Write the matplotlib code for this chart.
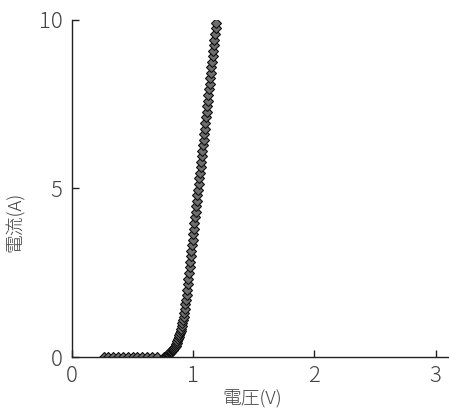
import matplotlib.pyplot as plt

plt.rcParams['font.family'] = ['Noto Sans CJK JP', 'DejaVu Sans']

# flat region, sparse markers
volt_low = [0.26, 0.30, 0.34, 0.38, 0.42, 0.46, 0.50, 0.54, 0.58, 0.62, 0.66, 0.70]
curr_low = [0.0] * len(volt_low)

# rising region, dense markers
volt_high = [0.760, 0.765, 0.770, 0.775, 0.780, 0.785, 0.790, 0.795, 0.800, 0.805,
             0.810, 0.815, 0.820, 0.825, 0.830, 0.835, 0.840, 0.845, 0.850, 0.855,
             0.860, 0.865, 0.870, 0.875, 0.880, 0.885, 0.890, 0.895, 0.900, 0.905,
             0.910, 0.915, 0.920, 0.925, 0.930, 0.935, 0.940, 0.945, 0.950, 0.955,
             0.960, 0.965, 0.970, 0.975, 0.980, 0.985, 0.990, 0.995, 1.000, 1.005,
             1.010, 1.015, 1.020, 1.025, 1.030, 1.035, 1.040, 1.045, 1.050, 1.055,
             1.060, 1.065, 1.070, 1.075, 1.080, 1.085, 1.090, 1.095, 1.100, 1.105,
             1.110, 1.115, 1.120, 1.125, 1.130, 1.135, 1.140, 1.145, 1.150, 1.155,
             1.160, 1.165, 1.170, 1.175, 1.180, 1.185, 1.190]
curr_high = [0.00, 0.00, 0.01, 0.02, 0.03, 0.04, 0.06, 0.08, 0.10, 0.12,
             0.14, 0.16, 0.18, 0.20, 0.22, 0.24, 0.26, 0.28, 0.30, 0.34,
             0.38, 0.42, 0.47, 0.52, 0.58, 0.64, 0.70, 0.77, 0.84, 0.92,
             1.01, 1.10, 1.20, 1.31, 1.43, 1.56, 1.70, 1.85, 2.00, 2.16,
             2.32, 2.49, 2.66, 2.82, 2.99, 3.15, 3.32, 3.48, 3.65, 3.81,
             3.98, 4.14, 4.31, 4.47, 4.64, 4.80, 4.97, 5.13, 5.30, 5.46,
             5.63, 5.79, 5.96, 6.12, 6.29, 6.45, 6.62, 6.78, 6.95, 7.11,
             7.28, 7.44, 7.61, 7.77, 7.94, 8.10, 8.27, 8.43, 8.60, 8.76,
             8.93, 9.09, 9.26, 9.42, 9.59, 9.75, 9.92]

x_ticks = [0, 1, 2, 3]
y_ticks = [0, 5, 10]

fig = plt.figure(figsize=(4.49, 4.08), dpi=100)
ax = fig.add_axes([0.1604, 0.125, 0.837, 0.826])

volts = volt_low + volt_high
currs = curr_low + curr_high
ax.plot(volts, currs, color='black', lw=1.2, marker='D', markersize=5.2,
        markerfacecolor='#6e6e6e', markeredgecolor='#111111', markeredgewidth=0.8)

ax.set_xlim(0, 3.1)
ax.set_ylim(0, 10)
ax.set_xticks(x_ticks)
ax.set_yticks(y_ticks)
ax.spines['top'].set_visible(False)
ax.spines['right'].set_visible(False)
for s in ['left', 'bottom']:
    ax.spines[s].set_linewidth(1.0)
    ax.spines[s].set_color('#222222')
ax.tick_params(direction='in', length=5, width=1, color='#222222',
               labelsize=16, labelcolor='#444444')
ax.tick_params(axis='x', pad=6)
ax.tick_params(axis='y', pad=7)
for lab in ax.get_xticklabels() + ax.get_yticklabels():
    lab.set_fontweight('light')

ax.set_xlabel('電圧(V)', fontsize=13.5, color='#444444', fontweight='light')
ax.set_ylabel('電流(A)', fontsize=13.5, color='#444444', fontweight='light')
ax.xaxis.set_label_coords(0.48, -0.098)
ax.yaxis.set_label_coords(-0.125, 0.40)

fig.savefig('out.png', dpi=100)
